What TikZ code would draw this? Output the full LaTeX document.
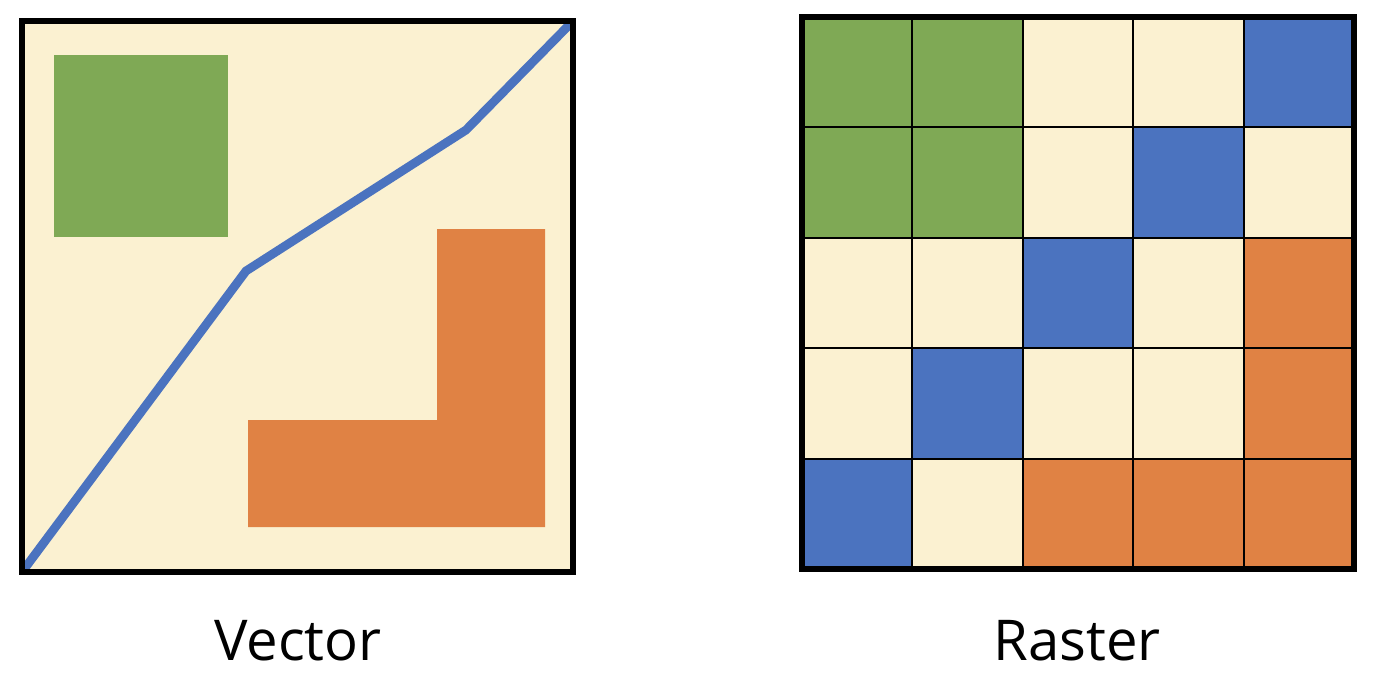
\documentclass[tikz,border=0pt]{standalone}
\usepackage{fontspec}
\setmainfont{Open Sans}
\definecolor{cream}{HTML}{FBF1D1}
\definecolor{leafgreen}{HTML}{7FA955}
\definecolor{seablue}{HTML}{4B73BF}
\definecolor{rustorange}{HTML}{E08244}

\begin{document}
\begin{tikzpicture}[frame/.style={line width=3.3pt}, cell/.style={line width=1.1pt},
  caption/.style={anchor=base, font=\fontsize{32}{38}\selectfont}]
  \useasboundingbox (0,0) rectangle (27.52,13.76);
  % vector
  \fill[cream] (0.44,2.32) rectangle (11.46,13.34);
  \fill[leafgreen] (1.08,9.02) rectangle (4.56,12.66);
  \fill[rustorange] (4.96,3.22) -- (10.9,3.22) -- (10.9,9.18) -- (8.74,9.18) -- (8.74,5.36) -- (4.96,5.36) -- cycle;
  \begin{scope}
    \clip (0.44,2.32) rectangle (11.46,13.34);
    \draw[seablue, line width=5pt] (0.44,2.32) -- (4.92,8.34) -- (9.32,11.16) -- (11.46,13.34);
  \end{scope}
  \draw[frame] (0.44,2.32) rectangle (11.46,13.34);
  \node[caption] (vectorlabel) at (5.96,0.56) {Vector};
  % raster
  \begin{scope}[xshift=16.04cm, yshift=2.38cm, x=2.208cm, y=2.208cm]
    \fill[cream] (0,0) rectangle (5,5);
    \fill[leafgreen] (0,3) rectangle (2,5);
    \fill[rustorange] (4,0) rectangle (5,3);
    \fill[rustorange] (2,0) rectangle (4,1);
    \foreach \i in {0,...,4}
      \fill[seablue] (\i,\i) rectangle ++(1,1);
    \draw[cell, step=1] (0,0) grid (5,5);
    \draw[frame] (0,0) rectangle (5,5);
  \end{scope}
  \node[caption] (rasterlabel) at (21.54,0.56) {Raster};
\end{tikzpicture}
\end{document}
